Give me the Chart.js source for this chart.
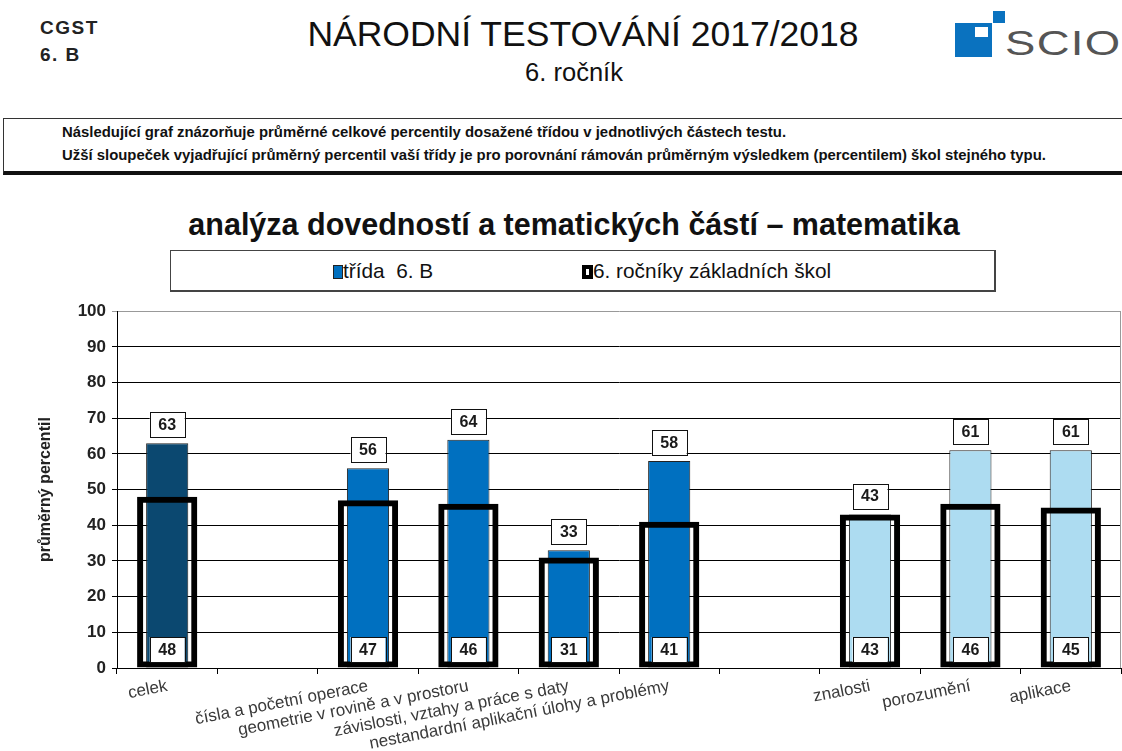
<!DOCTYPE html>
<html lang="cs">
<head>
<meta charset="utf-8">
<title>Národní testování 2017/2018 – matematika</title>
<script src="https://cdn.jsdelivr.net/npm/chart.js@4.4.0/dist/chart.umd.min.js"></script>
<style>
  html, body { margin: 0; padding: 0; background: #fff; }
  body { width: 1122px; height: 751px; position: relative; overflow: hidden;
         font-family: "Liberation Sans", Arial, sans-serif; color: #111; }
  .abs { position: absolute; white-space: nowrap; }
  #trida { left: 40px; top: 14px; font-weight: bold; font-size: 19px; line-height: 27px; color: #222; letter-spacing: 1.5px; }
  #nadpis { left: 583px; top: 17px; transform: translateX(-50%); font-size: 35.5px; line-height: 35px; }
  #rocnik { left: 574px; top: 60px; transform: translateX(-50%); font-size: 25.5px; line-height: 25px; }
  #logo .sq { position: absolute; background: #0a72bf; }
  #logo .in { position: absolute; background: #fff; }
  #scio { left: 1005px; top: 24px; font-size: 35px; line-height: 38px; color: #555;
          transform: scaleX(1.3); transform-origin: left top; letter-spacing: 1px; }
  #popis { left: 3px; top: 118px; width: 1130px; height: 57px; border-top: 1px solid #333;
           border-left: 1px solid #333; border-bottom: 4px solid #111; box-sizing: border-box; }
  #popis div { position: absolute; left: 58px; font-family: "Liberation Sans Narrow", "Liberation Sans", Arial, sans-serif;
               font-size: 14.9px; font-weight: bold; color: #111; white-space: nowrap; }
  #titulek { left: 574px; top: 207px; transform: translateX(-50%); font-weight: bold; font-size: 30.5px; line-height: 34px; }
  #legenda { left: 170px; top: 250px; width: 826px; height: 42px; border: 1px solid #444;
             border-right-width: 2px; border-bottom-width: 2px; box-sizing: border-box; }
  .leg { position: absolute; top: 9px; font-size: 20.8px; line-height: 22px; white-space: pre; }
  .mk { display: inline-block; vertical-align: -1px; box-sizing: border-box; }
  #graf { position: absolute; left: 0; top: 295px; }
</style>
</head>
<body>
<div id="trida" class="abs">CGST<br>6. B</div>
<div id="nadpis" class="abs">NÁRODNÍ TESTOVÁNÍ 2017/2018</div>
<div id="rocnik" class="abs">6. ročník</div>
<div id="logo">
  <div class="sq" style="left:955px;top:23px;width:37px;height:34px"></div>
  <div class="in" style="left:975px;top:27px;width:13px;height:10px"></div>
  <div class="sq" style="left:993px;top:11px;width:12px;height:12px"></div>
</div>
<div id="scio" class="abs">SCIO</div>

<div id="popis" class="abs">
  <div style="top:5px">Následující graf znázorňuje průměrné celkové percentily dosažené třídou v jednotlivých částech testu.</div>
  <div style="top:28px">Užší sloupeček vyjadřující průměrný percentil vaší třídy je pro porovnání rámován průměrným výsledkem (percentilem) škol stejného typu.</div>
</div>

<div id="titulek" class="abs">analýza dovedností a tematických částí – matematika</div>

<div id="legenda" class="abs">
  <div class="leg" style="left:162px"><span class="mk" style="width:10px;height:14px;background:#0070c0;border:1px solid #222"></span>třída  6. B</div>
  <div class="leg" style="left:411px"><span class="mk" style="width:11px;height:14px;background:#fff;border:4px solid #000"></span>6. ročníky základních škol</div>
</div>

<canvas id="graf" width="1122" height="456"></canvas>

<script>
// data grafu
const categories = ['celek', '', 'čísla a početní operace', 'geometrie v rovině a v prostoru',
  'závislosti, vztahy a práce s daty', 'nestandardní aplikační úlohy a problémy', '',
  'znalosti', 'porozumění', 'aplikace'];
const tridaValues = [63, null, 56, 64, 33, 58, null, 43, 61, 61];
const skolyValues = [48, null, 47, 46, 31, 41, null, 43, 46, 45];
const yTickValues = [0, 10, 20, 30, 40, 50, 60, 70, 80, 90, 100];

// barvy sloupců třídy
const tridaColors = ['#0b4870', null, '#0070c0', '#0070c0', '#0070c0', '#0070c0', null, '#addcf1', '#addcf1', '#addcf1'];

const FONT = '"Liberation Sans", Arial, sans-serif';

function drawBox(ctx, x, yCenter, text) {
  const w = 35, h = 25;
  ctx.fillStyle = '#fff';
  ctx.fillRect(x - w / 2, yCenter - h / 2, w, h);
  ctx.strokeStyle = '#111';
  ctx.lineWidth = 1;
  ctx.strokeRect(Math.round(x - w / 2) + 0.5, Math.round(yCenter - h / 2) + 0.5, w, h);
  ctx.fillStyle = '#1a1a1a';
  ctx.fillText(String(text), x, yCenter + 1);
}

// popisky hodnot v rámečcích
const valueBoxes = {
  id: 'valueBoxes',
  afterDatasetsDraw(chart) {
    const ctx = chart.ctx;
    const yZero = chart.scales.y.getPixelForValue(0);
    ctx.save();
    ctx.font = 'bold 16px ' + FONT;
    ctx.textAlign = 'center';
    ctx.textBaseline = 'middle';
    chart.getDatasetMeta(0).data.forEach((bar, i) => {
      if (tridaValues[i] == null) return;
      drawBox(ctx, bar.x, bar.y - 6 - 12.5, tridaValues[i]);
    });
    chart.getDatasetMeta(1).data.forEach((bar, i) => {
      if (skolyValues[i] == null) return;
      drawBox(ctx, bar.x, yZero - 6 - 12.5, skolyValues[i]);
    });
    ctx.restore();
  }
};

// šedý pravý okraj plochy
const frame = {
  id: 'frame',
  beforeDatasetsDraw(chart) {
    const a = chart.chartArea;
    const ctx = chart.ctx;
    ctx.save();
    ctx.strokeStyle = '#999';
    ctx.lineWidth = 1;
    ctx.beginPath();
    ctx.moveTo(Math.round(a.right) - 0.5, a.top);
    ctx.lineTo(Math.round(a.right) - 0.5, a.bottom);
    ctx.stroke();
    ctx.restore();
  }
};

new Chart(document.getElementById('graf'), {
  type: 'bar',
  data: {
    labels: categories,
    datasets: [
      {
        label: 'třída 6. B',
        data: tridaValues,
        backgroundColor: tridaColors,
        borderColor: '#222',
        borderWidth: 1,
        borderSkipped: false,
        barPercentage: 0.42,
        categoryPercentage: 1,
        grouped: false,
        order: 1
      },
      {
        label: '6. ročníky základních škol',
        data: skolyValues,
        backgroundColor: 'rgba(0,0,0,0)',
        borderColor: '#000',
        borderWidth: 6,
        borderSkipped: false,
        barPercentage: 0.6,
        categoryPercentage: 1,
        grouped: false,
        order: 0
      }
    ]
  },
  options: {
    responsive: false,
    animation: false,
    layout: { padding: { top: 14, right: 1, left: 0, bottom: 0 } },
    plugins: {
      legend: { display: false },
      title: { display: false },
      tooltip: { enabled: false }
    },
    scales: {
      x: {
        grid: { drawOnChartArea: false, drawTicks: true, tickLength: 6, color: '#000', offset: true },
        border: { color: '#000', width: 1 },
        ticks: {
          autoSkip: false, minRotation: 11, maxRotation: 11, padding: 2,
          color: '#3a3a3a', font: { family: FONT, size: 17 }
        },
        afterFit(scale) { scale.height = 83; }
      },
      y: {
        min: 0, max: 100,
        afterBuildTicks(scale) { scale.ticks = yTickValues.map(v => ({ value: v })); },
        grid: {
          color: ctx => (ctx.tick && ctx.tick.value === 100 ? '#999' : '#000'),
          lineWidth: 1, tickLength: 5
        },
        border: { color: '#000', width: 1 },
        ticks: { padding: 6, color: '#222', font: { family: FONT, size: 17, weight: 'bold' } },
        title: {
          display: true, text: 'průměrný percentil', color: '#222',
          font: { family: FONT, size: 16, weight: 'bold' }, padding: { top: 36, bottom: 0 }
        },
        afterFit(scale) { scale.width = 117; }
      }
    }
  },
  plugins: [valueBoxes, frame]
});
</script>
</body>
</html>
